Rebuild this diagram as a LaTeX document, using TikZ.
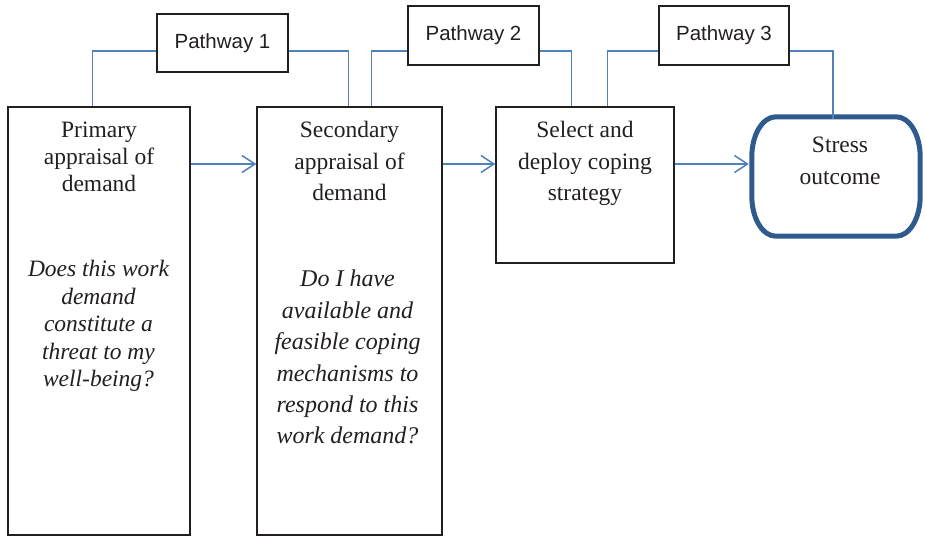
\documentclass[tikz,border=0pt]{standalone}
\usepackage{fontspec}
\setmainfont{Liberation Serif}
\newfontfamily\labelsans{Liberation Sans}
\usetikzlibrary{arrows.meta}
\definecolor{inkline}{HTML}{231F20}
\definecolor{linkblue}{HTML}{4F81BD}
\definecolor{outcomeblue}{HTML}{2F5A8E}
\tikzset{
  stagebox/.style={draw=inkline, line width=1.4pt, rectangle, inner sep=0pt},
  pathbox/.style={draw=inkline, line width=1.4pt, rectangle, inner sep=0pt,
    minimum width=131pt, minimum height=58pt,
    font=\labelsans\fontsize{20.5}{24}\selectfont, text=inkline},
  outcomearea/.style={rectangle, inner sep=0pt},
  outcomeline/.style={draw=outcomeblue, line width=5pt, line join=round},
  stagetext/.style={anchor=north, inner sep=0pt, align=center, text=inkline},
  link/.style={draw=linkblue, line width=1.5pt},
  flowarrow/.style={draw=linkblue, line width=1.5pt,
    -{Straight Barb[length=13pt,width=17pt,line width=1.5pt]}},
}
\begin{document}
\begin{tikzpicture}[x=1pt,y=-1pt]
\useasboundingbox (0,0) rectangle (925,536);

% stage boxes
\node[stagebox, minimum width=182pt, minimum height=428pt] (box1) at (99,321) {};
\node[stagebox, minimum width=185pt, minimum height=428pt] (box2) at (349.5,321) {};
\node[stagebox, minimum width=178pt, minimum height=156pt] (box3) at (585,185) {};

% outcome terminator with elliptical corners (rx 24, ry 40)
\node[outcomearea, minimum width=168pt, minimum height=119pt] (stress) at (836,176.5) {};
\draw[outcomeline]
  ([xshift=24pt]stress.north west) -- ([xshift=-24pt]stress.north east)
  .. controls ([xshift=-10.7pt]stress.north east) and ([yshift=-18pt]stress.north east)
  .. ([yshift=-40pt]stress.north east)
  -- ([yshift=40pt]stress.south east)
  .. controls ([yshift=18pt]stress.south east) and ([xshift=-10.7pt]stress.south east)
  .. ([xshift=-24pt]stress.south east)
  -- ([xshift=24pt]stress.south west)
  .. controls ([xshift=10.7pt]stress.south west) and ([yshift=18pt]stress.south west)
  .. ([yshift=40pt]stress.south west)
  -- ([yshift=-40pt]stress.north west)
  .. controls ([yshift=-18pt]stress.north west) and ([xshift=10.7pt]stress.north west)
  .. ([xshift=24pt]stress.north west) -- cycle;

% pathway labels
\node[pathbox] (pw1) at (222.5,43) {Pathway 1};
\node[pathbox, minimum height=59pt] (pw2) at (473.5,35.5) {Pathway 2};
\node[pathbox, minimum width=130pt, minimum height=59pt] (pw3) at (724,35.5) {Pathway 3};

% box texts
\node[stagetext, font=\fontsize{23.5}{27}\selectfont] (t1) at (99,122)
  {Primary\\appraisal of\\demand};
\node[stagetext, font=\itshape\fontsize{23.5}{27.5}\selectfont] (q1) at (98.5,260)
  {Does this work\\demand\\constitute a\\threat to my\\well-being?};
\node[stagetext, font=\fontsize{23.5}{31.5}\selectfont] (t2) at (349.5,121)
  {Secondary\\appraisal of\\demand};
\node[stagetext, font=\itshape\fontsize{24}{31.4}\selectfont] (q2) at (347.5,270)
  {Do I have\\available and\\feasible coping\\mechanisms to\\respond to this\\work demand?};
\node[stagetext, font=\fontsize{23.5}{31.5}\selectfont] (t3) at (585,121)
  {Select and\\deploy coping\\strategy};
\node[stagetext, font=\fontsize{23.5}{32}\selectfont] (t4) at (840,137)
  {Stress\\outcome};

% rails and flow levels
\coordinate (rail) at (0,51);
\coordinate (flow) at (0,164);

% pathway connectors
\draw[link] ([xshift=85pt]box1.north west) |- (pw1.west |- rail);
\draw[link] (pw1.east |- rail) -| ([xshift=92pt]box2.north west);
\draw[link] ([xshift=115pt]box2.north west) |- (pw2.west |- rail);
\draw[link] (pw2.east |- rail) -| ([xshift=76pt]box3.north west);
\draw[link] ([xshift=112pt]box3.north west) |- (pw3.west |- rail);
\draw[link] (pw3.east |- rail) -| ([xshift=-3pt,yshift=-2pt]stress.north);

% flow arrows
\draw[flowarrow] (box1.east |- flow) -- (box2.west |- flow);
\draw[flowarrow] (box2.east |- flow) -- (box3.west |- flow);
\draw[flowarrow] (box3.east |- flow) -- ([xshift=-3pt]stress.west |- flow);
\end{tikzpicture}
\end{document}
